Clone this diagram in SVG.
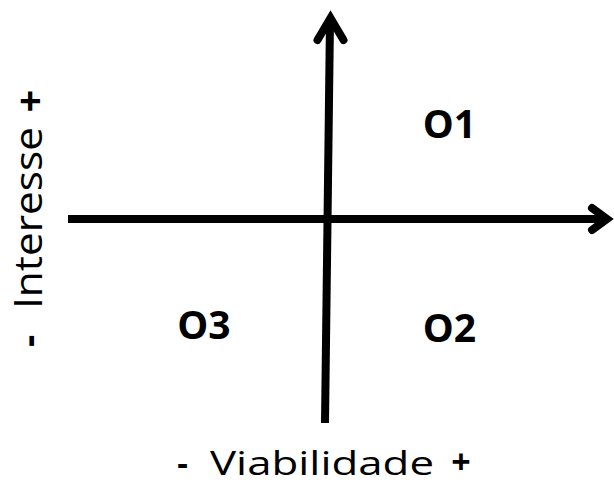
<svg xmlns="http://www.w3.org/2000/svg" width="614" height="484" viewBox="0 0 614 484">
<style>
.ax{stroke:#000;stroke-width:8;fill:none}
.hd{stroke:#000;stroke-width:8;fill:none;stroke-linecap:round;stroke-linejoin:miter;stroke-miterlimit:10}
.lb{font-family:"Open Sans","Liberation Sans",sans-serif;fill:#000}
.q{font-weight:bold;font-size:39px;text-anchor:middle}
</style>
<rect width="614" height="484" fill="#fff"/>
<g id="connectors">
<line class="ax" x1="325" y1="423" x2="330" y2="20"/>
<polyline class="hd" points="317.5,40 330.5,18 343.5,40"/>
<line class="ax" x1="68" y1="219" x2="606" y2="219"/>
<polyline class="hd" points="592,208 607,219 592,230"/>
</g>
<g id="O1"><text class="lb q" x="449.5" y="138">O1</text></g>
<g id="O2"><text class="lb q" x="449.5" y="342">O2</text></g>
<g id="O3"><text class="lb q" x="204" y="339">O3</text></g>
<g id="xlabel">
<text class="lb" x="182.5" y="475" font-size="33" font-weight="bold" text-anchor="middle">-</text>
<text class="lb" x="210" y="475" font-size="33" textLength="224" lengthAdjust="spacingAndGlyphs">Viabilidade</text>
<text class="lb" x="461" y="474" font-size="34" font-weight="bold" text-anchor="middle">+</text>
</g>
<g id="ylabel">
<text class="lb" transform="translate(42,341) rotate(-90)" font-size="38" font-weight="bold" text-anchor="middle">-</text>
<text class="lb" transform="translate(42,309) rotate(-90)" font-size="38" textLength="182" lengthAdjust="spacingAndGlyphs">Interesse</text>
<text class="lb" transform="translate(44,101) rotate(-90)" font-size="40" font-weight="bold" text-anchor="middle">+</text>
</g>
</svg>
